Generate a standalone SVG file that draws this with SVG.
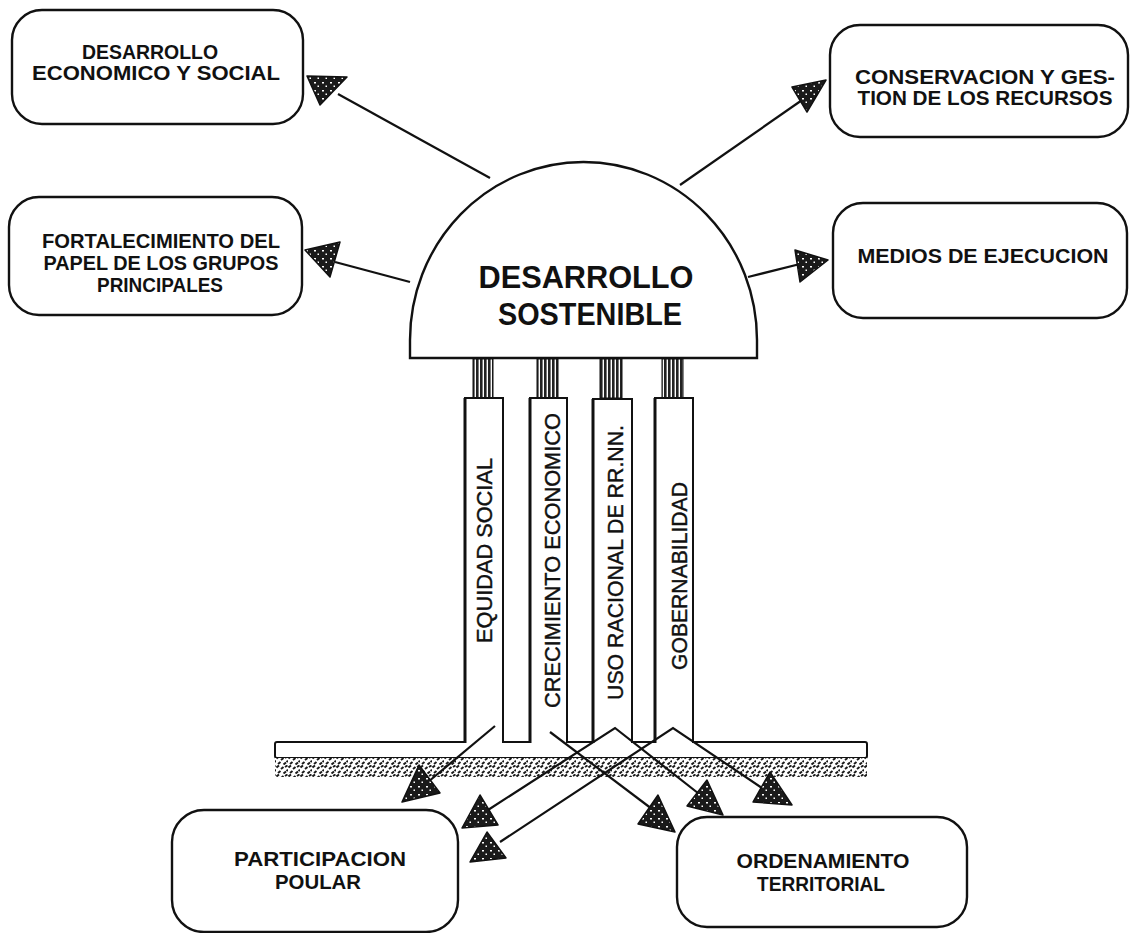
<svg xmlns="http://www.w3.org/2000/svg" width="1132" height="933" viewBox="0 0 1132 933">
<defs>
<style>
.box{fill:#fff;stroke:#111;stroke-width:2.4}
.t{font-family:"Liberation Sans",Arial,sans-serif;font-size:20px;font-weight:bold;fill:#111;text-anchor:middle}
.dt{font-family:"Liberation Sans",Arial,sans-serif;font-size:31px;font-weight:bold;fill:#111;text-anchor:middle}
.pt{font-family:"Liberation Sans",Arial,sans-serif;font-size:22px;fill:#111;stroke:#111;stroke-width:0.4}
.ln{fill:none;stroke:#111;stroke-width:2.2}
.head{fill:url(#speck);stroke:#111;stroke-width:1.5;stroke-linejoin:round}
.pillar{fill:#fff;stroke:#111;stroke-width:2}
</style>
<pattern id="speck" width="8" height="8" patternUnits="userSpaceOnUse">
<rect width="8" height="8" fill="#1a1a1a"/>
<rect x="2" y="2" width="2" height="1.5" fill="#fff"/>
<rect x="5.5" y="5.5" width="1.5" height="1.5" fill="#fff"/>
</pattern>
<pattern id="hatch" width="4" height="10" patternUnits="userSpaceOnUse">
<rect width="4" height="10" fill="#fff"/>
<rect width="2.6" height="10" fill="#222"/>
</pattern>
<pattern id="ground" width="12" height="9" patternUnits="userSpaceOnUse">
<rect width="12" height="9" fill="#fff"/>
<path d="M0.5,2.5 l2.5,-2 M5,4 l2.5,-2 M9,2 l2.5,-1.5 M2,8 l2.5,-2 M7.5,8.5 l2.5,-2 M10.5,6 l1.5,-1.2" stroke="#1a1a1a" stroke-width="2" fill="none"/>
</pattern>
</defs>

<g id="ground">
<rect x="275" y="742" width="592" height="16" rx="2" fill="#fff" stroke="#111" stroke-width="2"/>
<rect x="275" y="758" width="592" height="19" fill="url(#ground)"/>
</g>

<g id="dome">
<path d="M410,358 L410,340 A173.5,178 0 0 1 757,340 L757,358 Z" fill="#fff" stroke="#111" stroke-width="2.4"/>
<text class="dt" x="586" y="288" textLength="215" lengthAdjust="spacingAndGlyphs">DESARROLLO</text>
<text class="dt" x="590" y="325" textLength="184" lengthAdjust="spacingAndGlyphs">SOSTENIBLE</text>
</g>

<g id="pillar-equidad">
<rect x="473" y="359" width="20" height="39" fill="url(#hatch)" stroke="#111" stroke-width="1"/>
<path class="pillar" d="M465,743 L465,398 L503,398 L503,743"/>
<line x1="465" y1="398" x2="465" y2="743" stroke="#111" stroke-width="3"/>
<text class="pt" transform="translate(492,643) rotate(-90)" textLength="185" lengthAdjust="spacingAndGlyphs">EQUIDAD SOCIAL</text>
</g>
<g id="pillar-crecimiento">
<rect x="537" y="359" width="21" height="39" fill="url(#hatch)" stroke="#111" stroke-width="1"/>
<path class="pillar" d="M530,743 L530,398 L567,398 L567,743"/>
<line x1="530" y1="398" x2="530" y2="743" stroke="#111" stroke-width="3"/>
<text class="pt" transform="translate(560,708) rotate(-90)" textLength="295" lengthAdjust="spacingAndGlyphs">CRECIMIENTO ECONOMICO</text>
</g>
<g id="pillar-uso">
<rect x="600" y="359" width="22" height="39" fill="url(#hatch)" stroke="#111" stroke-width="1"/>
<path class="pillar" d="M593,743 L593,399 L632,399 L632,743"/>
<line x1="593" y1="399" x2="593" y2="743" stroke="#111" stroke-width="3"/>
<text class="pt" transform="translate(623,700) rotate(-90)" textLength="275" lengthAdjust="spacingAndGlyphs">USO RACIONAL DE RR.NN.</text>
</g>
<g id="pillar-gobernabilidad">
<rect x="662" y="359" width="21" height="39" fill="url(#hatch)" stroke="#111" stroke-width="1"/>
<path class="pillar" d="M655,743 L655,398 L693,398 L693,743"/>
<line x1="655" y1="398" x2="655" y2="743" stroke="#111" stroke-width="3"/>
<text class="pt" transform="translate(687,670) rotate(-90)" textLength="188" lengthAdjust="spacingAndGlyphs">GOBERNABILIDAD</text>
</g>

<g id="connectors">
<line class="ln" x1="490" y1="178" x2="338" y2="94"/>
<polygon class="head" points="307,76 347,77 320,105"/>
<line class="ln" x1="680" y1="185" x2="805" y2="98"/>
<polygon class="head" points="792,87 826,80 807,112"/>
<line class="ln" x1="410" y1="282" x2="335" y2="262"/>
<polygon class="head" points="305,250 340,242 330,277"/>
<line class="ln" x1="748" y1="277" x2="800" y2="264"/>
<polygon class="head" points="795,250 828,260 800,282"/>

<line class="ln" x1="495" y1="726" x2="428" y2="782"/>
<polygon class="head" points="402,802 419,765 440,793"/>
<line class="ln" x1="550" y1="732" x2="656" y2="812"/>
<polygon class="head" points="638,824 658,795 675,832"/>
<polyline class="ln" points="488,810 615,728 703,797"/>
<polygon class="head" points="462,828 480,795 498,825"/>
<polygon class="head" points="687,806 707,780 723,815"/>
<polyline class="ln" points="500,842 673,728 768,792"/>
<polygon class="head" points="753,802 770,772 792,805"/>
<polygon class="head" points="470,862 487,832 506,858"/>
</g>

<g id="box-desarrollo-economico">
<rect class="box" x="12" y="10" width="291" height="114" rx="30"/>
<text class="t" x="150" y="59" textLength="136" lengthAdjust="spacingAndGlyphs">DESARROLLO</text>
<text class="t" x="156" y="80" textLength="248" lengthAdjust="spacingAndGlyphs">ECONOMICO Y SOCIAL</text>
</g>
<g id="box-conservacion">
<rect class="box" x="830" y="25" width="298" height="112" rx="30"/>
<text class="t" x="985" y="84" textLength="260" lengthAdjust="spacingAndGlyphs">CONSERVACION Y GES-</text>
<text class="t" x="985" y="105" textLength="255" lengthAdjust="spacingAndGlyphs">TION DE LOS RECURSOS</text>
</g>
<g id="box-fortalecimiento">
<rect class="box" x="9" y="197" width="293" height="118" rx="30"/>
<text class="t" x="161" y="248" textLength="238" lengthAdjust="spacingAndGlyphs">FORTALECIMIENTO DEL</text>
<text class="t" x="161" y="270" textLength="235" lengthAdjust="spacingAndGlyphs">PAPEL DE LOS GRUPOS</text>
<text class="t" x="160" y="292" textLength="126" lengthAdjust="spacingAndGlyphs">PRINCIPALES</text>
</g>
<g id="box-medios">
<rect class="box" x="833" y="203" width="294" height="115" rx="30"/>
<text class="t" x="983" y="263" textLength="251" lengthAdjust="spacingAndGlyphs">MEDIOS DE EJECUCION</text>
</g>
<g id="box-participacion">
<rect class="box" x="172" y="810" width="286" height="122" rx="32"/>
<text class="t" x="320" y="866" textLength="172" lengthAdjust="spacingAndGlyphs">PARTICIPACION</text>
<text class="t" x="318" y="889" textLength="86" lengthAdjust="spacingAndGlyphs">POULAR</text>
</g>
<g id="box-ordenamiento">
<rect class="box" x="677" y="817" width="290" height="110" rx="30"/>
<text class="t" x="823" y="868" textLength="173" lengthAdjust="spacingAndGlyphs">ORDENAMIENTO</text>
<text class="t" x="821" y="891" textLength="128" lengthAdjust="spacingAndGlyphs">TERRITORIAL</text>
</g>
</svg>
